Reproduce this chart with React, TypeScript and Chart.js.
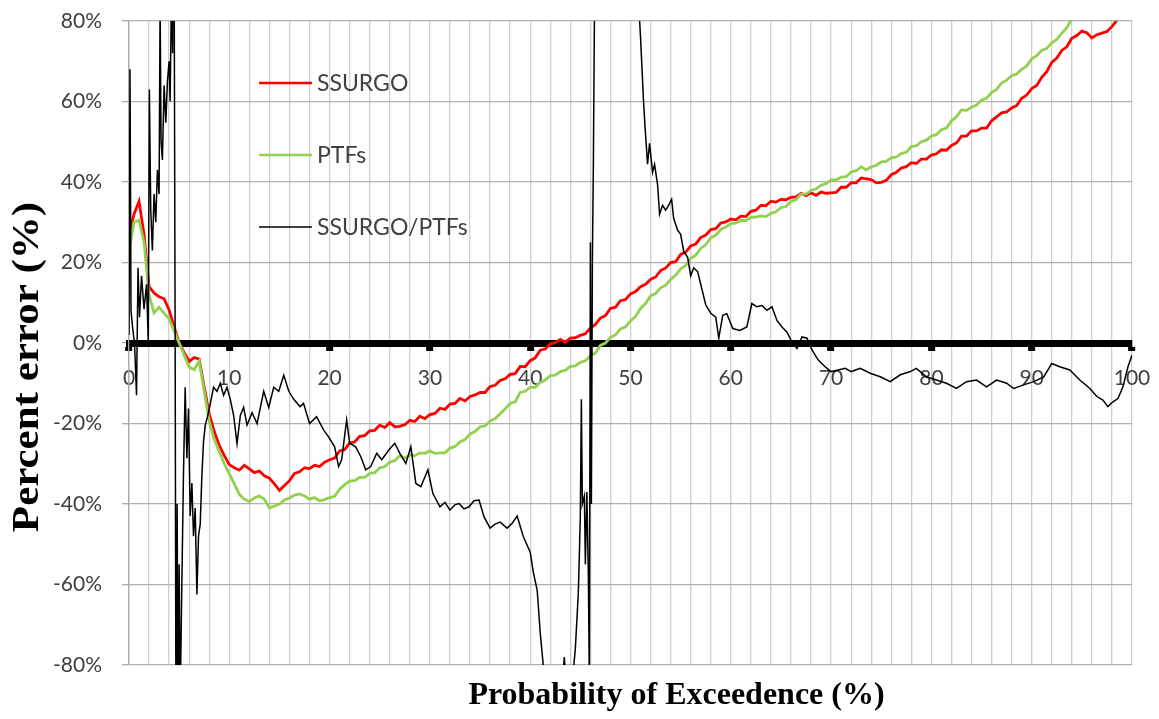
import { useEffect, useRef } from 'react';
import { Chart, registerables } from 'chart.js';

Chart.register(...registerables);

// Probability of exceedence (%) shared by the SSURGO and PTFs series
const exceedance = [
  0, 0.5, 1, 1.5, 2, 2.5, 3, 3.5, 4, 4.5,
  5, 5.5, 6, 6.5, 7, 7.5, 8, 8.5, 9, 9.5,
  10, 10.5, 11, 11.5, 12, 12.5, 13, 13.5, 14, 14.5,
  15, 15.5, 16, 16.5, 17, 17.5, 18, 18.5, 19, 19.5,
  20, 20.5, 21, 21.5, 22, 22.5, 23, 23.5, 24, 24.5,
  25, 25.5, 26, 26.5, 27, 27.5, 28, 28.5, 29, 29.5,
  30, 30.5, 31, 31.5, 32, 32.5, 33, 33.5, 34, 34.5,
  35, 35.5, 36, 36.5, 37, 37.5, 38, 38.5, 39, 39.5,
  40, 40.5, 41, 41.5, 42, 42.5, 43, 43.5, 44, 44.5,
  45, 45.5, 46, 46.5, 47, 47.5, 48, 48.5, 49, 49.5,
  50, 50.5, 51, 51.5, 52, 52.5, 53, 53.5, 54, 54.5,
  55, 55.5, 56, 56.5, 57, 57.5, 58, 58.5, 59, 59.5,
  60, 60.5, 61, 61.5, 62, 62.5, 63, 63.5, 64, 64.5,
  65, 65.5, 66, 66.5, 67, 67.5, 68, 68.5, 69, 69.5,
  70, 70.5, 71, 71.5, 72, 72.5, 73, 73.5, 74, 74.5,
  75, 75.5, 76, 76.5, 77, 77.5, 78, 78.5, 79, 79.5,
  80, 80.5, 81, 81.5, 82, 82.5, 83, 83.5, 84, 84.5,
  85, 85.5, 86, 86.5, 87, 87.5, 88, 88.5, 89, 89.5,
  90, 90.5, 91, 91.5, 92, 92.5, 93, 93.5, 94, 94.5,
  95, 95.5, 96, 96.5, 97, 97.5, 98, 98.5, 99, 99.5,
  100,
];

// Percent error of the SSURGO-based run
const ssurgo = [
  27, 32, 35.2, 27, 14, 12.4, 11.5, 11, 8.2, 4,
  0, -2.4, -4.6, -3.6, -4, -11, -17.6, -22, -25.4, -28,
  -30.2, -31, -31.6, -30.4, -31.3, -32.2, -31.8, -33, -33.6, -35,
  -36.6, -35.4, -34.2, -32.4, -32, -31, -31.2, -30.4, -30.7, -29.6,
  -29, -28.6, -26.8, -26.5, -24.8, -24.6, -23.2, -23, -21.8, -21.7,
  -20.4, -21, -19.8, -20.8, -20.7, -20.3, -19.2, -19.5, -18.2, -18.8,
  -17.8, -17.5, -16.2, -16.5, -15.2, -15, -13.8, -14.4, -13.3, -12.9,
  -12.3, -12.3, -10.8, -10.5, -9.3, -8.9, -7.8, -7.6, -5.8, -5.9,
  -4.4, -3.7, -1.8, -1.5, -0.2, 0.1, 0.9, 0.2, 1.2, 1.3,
  1.9, 2.3, 3.7, 4.6, 6.2, 6.8, 8.6, 8.9, 10.5, 10.8,
  12.2, 12.8, 14, 14.6, 15.8, 16.4, 18, 18.6, 20, 20.2,
  22, 22.6, 24.1, 24.6, 26.2, 26.8, 28.2, 28.4, 29.8, 30.1,
  30.8, 30.6, 31.5, 31.4, 32.7, 33, 34.2, 34.1, 35.2, 35,
  35.7, 35.6, 36.2, 36.3, 37.2, 36.6, 37.3, 36.7, 37.5, 37.2,
  37.3, 37.4, 38.7, 38.7, 39.8, 39.8, 41, 40.8, 40.6, 39.8,
  39.9, 40.4, 41.8, 42.4, 43.5, 43.8, 44.8, 44.6, 45.7, 45.7,
  46.7, 47, 48, 47.9, 49.1, 49.7, 51.4, 51.4, 52.7, 52.7,
  53.4, 53.4, 55.2, 56.2, 57.2, 57.4, 58.4, 59, 60.8, 61.6,
  63.2, 64, 66, 67.4, 69.7, 70.8, 72.7, 73.6, 75.7, 76.4,
  77.5, 77.1, 75.8, 76.6, 77, 77.4, 78.6, 80.2, 82, 83.5,
  85,
];

// Percent error of the PTF-based run
const ptfs = [
  23, 30, 30.5, 25, 12, 7.5, 8.9, 7.4, 6, 3,
  0, -3, -6, -6.6, -4.5, -12, -19.5, -24, -27, -30,
  -32.5, -35, -37.6, -38.8, -39.4, -38.5, -38, -38.8, -41, -40.5,
  -40, -39, -38.5, -37.8, -37.5, -38, -38.8, -38.4, -39.2, -38.9,
  -38.4, -38.1, -36.3, -35.2, -34.3, -34.2, -33.4, -33.4, -32.4, -32.2,
  -31, -30.7, -29.6, -29.2, -28, -28.6, -27.8, -28, -27.3, -27.4,
  -26.8, -27.4, -27.3, -27.3, -26.1, -25.7, -24.6, -24, -22.6, -22,
  -20.8, -20.6, -19.4, -18.8, -17.6, -16.4, -15, -14.6, -12.3, -12,
  -11, -11, -9.8, -9.2, -8.1, -8, -7.1, -6.8, -5.8, -5.7,
  -4.8, -4.4, -3.2, -2.5, -0.6, 0, 1.4, 2, 3.5, 4,
  5.5, 6.6, 8.6, 9.8, 11.7, 12.3, 13.7, 14.3, 15.8, 16.8,
  18.4, 19.3, 21, 21.8, 23.5, 24.4, 26.1, 26.8, 28.2, 28.8,
  29.7, 29.8, 30.5, 30.4, 31.2, 31.3, 31.6, 31.4, 32.2, 32.6,
  33.6, 33.9, 35.2, 35.6, 37, 37, 37.9, 38.3, 39.2, 39.6,
  40.5, 40.5, 41.2, 41.3, 42.5, 42.8, 43.8, 43, 43.8, 44.1,
  45, 45.1, 46, 46.2, 47.1, 47.4, 48.8, 49, 50, 50.4,
  51.4, 51.8, 53, 53.4, 55.2, 56.2, 57.9, 57.8, 58.6, 59.1,
  60.4, 60.8, 62.2, 63, 64.6, 65.3, 66.4, 66.8, 68, 68.8,
  70.6, 71.4, 72.7, 73.2, 74.6, 75.4, 77, 78.3, 80.6, 81.8,
  83.5, null, null, null, null, null, null, null, null, null,
  null,
];

// SSURGO/PTFs ratio series, sampled at its own exceedence values
const ratioX = [
  0, 0.1, 0.2, 0.35, 0.55, 0.75, 0.9, 1.05, 1.25, 1.5,
  1.75, 1.92, 2.03, 2.17, 2.33, 2.5, 2.67, 2.83, 3.0, 3.1,
  3.2, 3.33, 3.5, 3.67, 3.83, 4.0, 4.1, 4.25, 4.35, 4.45,
  4.6, 4.7, 4.8, 4.9, 5.0, 5.1, 5.25, 5.43, 5.6, 5.77,
  5.93, 6.1, 6.27, 6.43, 6.6, 6.77, 6.93, 7.1, 7.27, 7.43,
  7.6, 7.83, 8.1, 8.43, 8.77, 9.1, 9.43, 9.77, 10.1, 10.43,
  10.77, 11.1, 11.43, 11.77, 12.27, 12.77, 13.1, 13.43, 13.93, 14.43,
  14.93, 15.43, 15.93, 16.43, 17.05, 17.4, 18.0, 18.7, 19.4, 20.0,
  20.5, 20.9, 21.2, 21.7, 22.0, 22.6, 23.1, 23.6, 24.1, 24.7,
  25.2, 25.9, 26.5, 27.0, 27.6, 28.1, 28.6, 29.1, 29.8, 30.3,
  31.0, 31.5, 32.0, 32.5, 32.9, 33.4, 33.9, 34.4, 34.9, 35.4,
  36.0, 36.5, 37.0, 37.7, 38.2, 38.7, 39.3, 40.0, 40.3, 40.7,
  41.0, 41.3, 41.6, 42.5, 43.2, 43.4, 43.6, 44.2, 44.5, 44.8,
  45.0, 45.1, 45.2, 45.4, 45.5, 45.65, 45.8, 45.9, 46.0, 46.1,
  46.2, 46.3, 46.4, 46.6, 47.5, 49.5, 50.6, 50.8, 51.0, 51.3,
  51.45, 51.7, 51.9, 52.2, 52.4, 52.7, 52.9, 53.2, 53.5, 53.8,
  54.1, 54.3, 54.7, 55.0, 55.3, 55.7, 56.0, 56.3, 56.7, 57.0,
  57.5, 58.0, 58.5, 58.8, 59.2, 59.6, 60.2, 60.9, 61.6, 62.1,
  62.6, 63.1, 63.6, 64.1, 64.6, 65.1, 65.6, 66.1, 66.6, 67.1,
  67.6, 68.1, 68.7, 69.4, 70.0, 70.7, 71.4, 72.0, 72.9, 73.9,
  74.9, 75.9, 76.9, 77.9, 78.5, 79.5, 80.5, 81.5, 82.5, 83.5,
  84.5, 85.5, 86.5, 87.5, 88.2, 89.2, 90.2, 91.2, 92.0, 92.8,
  93.8, 94.8, 95.8, 96.5, 97.1, 97.6, 98.1, 98.6, 99.1, 99.6,
  100,
];

const ratioY = [
  2, 68, 8, 4, 0, -13, 18.7, 6.4, 16.7, 8.4,
  14.6, 0, 63, 33, 23, 37, 30, 43, 37, 84,
  50, 45.5, 64, 54.7, 65, 70, 60, 90, 72, 140,
  2, -120, -40, -100, -55, -90, -63, -32.7, -11, -28.6,
  -16.3, -43, -34.8, -48, -41, -62.5, -48, -45, -32.7, -24.5,
  -20.4, -18.3, -15.2, -11, -12, -10, -13, -11, -14, -18,
  -25, -18, -16, -20.4, -17.3, -20, -16, -12, -16, -11,
  -12, -8, -12, -14, -15.8, -15, -20, -18.3, -21.6, -23.7,
  -25.8, -30.7, -29, -19.1, -24.9, -25.8, -28.2, -31.5, -30.7, -27.4,
  -29, -26.6, -24.9, -27.4, -29.9, -25.8, -34.9, -35.7, -31.5, -37.4,
  -40.7, -39.6, -41.5, -40.2, -39.9, -41.2, -40.7, -39.2, -39, -43.2,
  -46, -45, -44.5, -46, -44.8, -43, -48, -52, -56.8, -61.5,
  -72, -80, -90, -100, -85, -78, -86, -84, -76, -62,
  -43, -14, -40, -38, -55, -37, -58, -85, 25, -40,
  20, 45, 80, 120, 150, 140, 95, 85, 76, 60,
  53.7, 44.4, 49.6, 42.4, 44.4, 39.3, 32, 34.2, 33, 34.2,
  35.7, 31, 28, 27, 22.8, 21.3, 16.7, 18.7, 17.7, 14.6,
  9.5, 7.4, 6.4, 1.2, 6.9, 7.3, 3.6, 3.1, 4, 9.8,
  9, 9.3, 8.1, 9, 5.6, 4, 2.7, 0.2, -1.4, 1.5,
  1.2, -1.7, -4.2, -5.9, -7.1, -6.7, -6.3, -7.1, -6.3, -7.5,
  -8.4, -9.6, -7.9, -7.1, -6.3, -8.4, -9.2, -10, -11.3, -9.6,
  -9.2, -10.9, -9.2, -10, -11.3, -10.4, -9.6, -8.4, -5.1, -5.9,
  -6.7, -9.2, -11.3, -13.3, -14.2, -15.8, -14.6, -13.8, -10.9, -5.9,
  -3,
];

const seriesNames = ['SSURGO', 'PTFs', 'SSURGO/PTFs'];
const seriesColors = ['#ff0000', '#92d050', '#000000'];
const seriesWidths = [2.8, 2.8, 1.5];
const xTitle = 'Probability of Exceedence (%)';
const yTitle = 'Percent error (%)';

const TICK_TEXT = '#404040';
const LABEL_FONT = 'Lato, "Liberation Sans", sans-serif';
const TITLE_FONT = '"Liberation Serif", "Times New Roman", serif';

// Legend entries drawn inside the plot area, stacked vertically
const insideLegend = {
  id: 'insideLegend',
  afterDatasetsDraw(chart: any) {
    const { ctx, chartArea } = chart;
    const x0 = chartArea.left + 130;
    const rows = [62, 134, 206];
    ctx.save();
    ctx.font = `23px ${LABEL_FONT}`;
    ctx.textBaseline = 'middle';
    ctx.textAlign = 'left';
    seriesNames.forEach((name, i) => {
      const y = chartArea.top + rows[i];
      ctx.strokeStyle = seriesColors[i];
      ctx.lineWidth = i === 2 ? 1.4 : 2.4;
      ctx.beginPath();
      ctx.moveTo(x0, y);
      ctx.lineTo(x0 + 53, y);
      ctx.stroke();
      ctx.fillStyle = TICK_TEXT;
      ctx.fillText(name, x0 + 58, y + 1);
    });
    ctx.restore();
  },
};

// Serif axis titles
const axisTitles = {
  id: 'axisTitles',
  afterDraw(chart: any) {
    const { ctx, chartArea } = chart;
    ctx.save();
    ctx.fillStyle = '#000';
    ctx.font = `bold 32px ${TITLE_FONT}`;
    ctx.textAlign = 'center';
    ctx.textBaseline = 'alphabetic';
    ctx.fillText(xTitle, (chartArea.left + chartArea.right) / 2 + 46, 704);
    ctx.translate(38, 367);
    ctx.rotate(-Math.PI / 2);
    ctx.scale(1, 0.9);
    ctx.font = `bold 43px ${TITLE_FONT}`;
    ctx.fillText(yTitle, 0, 0);
    ctx.restore();
  },
};

export default function App() {
  const canvasRef = useRef<HTMLCanvasElement | null>(null);

  useEffect(() => {
    if (!canvasRef.current) return;
    Chart.defaults.font.family = LABEL_FONT;

    const chart = new Chart(canvasRef.current, {
      type: 'line',
      data: {
        datasets: [
          {
            label: seriesNames[0],
            data: exceedance.map((x, i) => ({ x, y: ssurgo[i] })),
            borderColor: seriesColors[0],
            borderWidth: seriesWidths[0],
            pointRadius: 0,
            tension: 0,
            order: 3,
          },
          {
            label: seriesNames[1],
            data: exceedance.map((x, i) => ({ x, y: ptfs[i] })),
            borderColor: seriesColors[1],
            borderWidth: seriesWidths[1],
            pointRadius: 0,
            tension: 0,
            order: 2,
          },
          {
            label: seriesNames[2],
            data: ratioX.map((x, i) => ({ x, y: ratioY[i] })),
            borderColor: seriesColors[2],
            borderWidth: seriesWidths[2],
            pointRadius: 0,
            tension: 0,
            order: 1,
          },
        ],
      },
      options: {
        animation: false,
        responsive: true,
        maintainAspectRatio: false,
        layout: { autoPadding: false, padding: { left: 0, top: 21, right: 27, bottom: 54 } },
        plugins: {
          legend: { display: false },
          tooltip: { enabled: false },
        },
        scales: {
          x: {
            type: 'linear',
            min: 0,
            max: 100,
            position: { y: 0 },
            afterFit: (scale: any) => {
              scale.height = 0;
              scale.paddingLeft = 0;
              scale.paddingRight = 0;
            },
            ticks: {
              stepSize: 2,
              autoSkip: false,
              maxRotation: 0,
              padding: 19,
              color: TICK_TEXT,
              font: { size: 21, family: LABEL_FONT },
              callback: (v: any) => (Number(v) % 10 === 0 ? String(v) : ''),
            },
            grid: {
              color: '#cfcfcf',
              lineWidth: 1.3,
              tickLength: 4,
              tickWidth: (c: any) => (c.tick && c.tick.value % 10 === 0 ? 7 : 0),
              tickColor: (c: any) => (c.tick && c.tick.value % 10 === 0 ? '#000' : 'rgba(0,0,0,0)'),
            },
            border: { display: true, color: '#000', width: 7 },
          },
          y: {
            type: 'linear',
            min: -80,
            max: 80,
            position: 'left',
            afterFit: (scale: any) => {
              scale.width = 129;
              scale.paddingTop = 0;
              scale.paddingBottom = 0;
            },
            ticks: {
              stepSize: 20,
              padding: 20,
              color: TICK_TEXT,
              font: { size: 21, family: LABEL_FONT },
              callback: (v: any) => `${v}%`,
            },
            grid: {
              color: '#b0b0b0',
              lineWidth: 1.3,
              tickLength: 7,
              tickColor: '#a8a8a8',
            },
            border: { display: true, color: '#a8a8a8', width: 1.3 },
          },
        },
      },
      plugins: [insideLegend, axisTitles],
    } as any);

    return () => chart.destroy();
  }, []);

  return (
    <div style={{ position: 'fixed', left: 0, top: 0, width: 1159, height: 719, background: '#fff' }}>
      <canvas ref={canvasRef} />
    </div>
  );
}
